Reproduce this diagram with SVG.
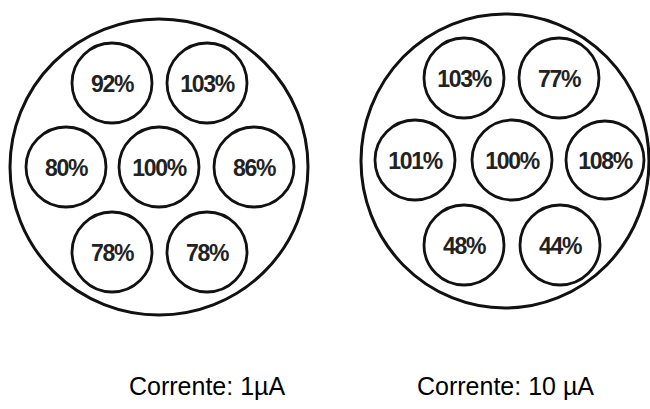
<svg xmlns="http://www.w3.org/2000/svg" width="650" height="409" viewBox="0 0 650 409">
<style>
.big{fill:#fff;stroke:#111;stroke-width:3}
.sm{fill:#fff;stroke:#111;stroke-width:2.8}
.pct{font-family:"Liberation Sans",Arial,sans-serif;font-weight:bold;font-size:23px;fill:#222;text-anchor:middle;dominant-baseline:central;letter-spacing:-1.3px}
.cap{font-family:"Liberation Sans",Arial,sans-serif;font-size:25px;fill:#000}
</style>
<rect width="650" height="409" fill="#fff"/>
<g id="panel-1uA">
<ellipse class="big" cx="159" cy="167" rx="149" ry="148"/>
<g id="n1-92"><circle class="sm" cx="112" cy="83" r="40"/><text class="pct" x="112" y="84">92%</text></g>
<g id="n1-103"><circle class="sm" cx="207" cy="83" r="40"/><text class="pct" x="207" y="84">103%</text></g>
<g id="n1-80"><circle class="sm" cx="66" cy="167" r="40"/><text class="pct" x="66" y="168">80%</text></g>
<g id="n1-100"><circle class="sm" cx="159" cy="167" r="40"/><text class="pct" x="159" y="168">100%</text></g>
<g id="n1-86"><circle class="sm" cx="254" cy="167" r="40"/><text class="pct" x="254" y="168">86%</text></g>
<g id="n1-78a"><circle class="sm" cx="112" cy="252" r="40"/><text class="pct" x="112" y="253">78%</text></g>
<g id="n1-78b"><circle class="sm" cx="207" cy="252" r="40"/><text class="pct" x="207" y="253">78%</text></g>
</g>
<g id="panel-10uA">
<ellipse class="big" cx="505" cy="161" rx="144" ry="147"/>
<g id="n2-103"><circle class="sm" cx="464" cy="78" r="40"/><text class="pct" x="464" y="79">103%</text></g>
<g id="n2-77"><circle class="sm" cx="559" cy="78" r="40"/><text class="pct" x="559" y="79">77%</text></g>
<g id="n2-101"><circle class="sm" cx="415" cy="160" r="40"/><text class="pct" x="415" y="161">101%</text></g>
<g id="n2-100"><circle class="sm" cx="512" cy="160" r="40"/><text class="pct" x="512" y="161">100%</text></g>
<g id="n2-108"><circle class="sm" cx="605" cy="160" r="39"/><text class="pct" x="605" y="161">108%</text></g>
<g id="n2-48"><circle class="sm" cx="464" cy="245" r="40"/><text class="pct" x="464" y="246">48%</text></g>
<g id="n2-44"><circle class="sm" cx="560" cy="245" r="40"/><text class="pct" x="560" y="246">44%</text></g>
</g>
<g id="connectors"></g>
<text class="cap" x="129" y="395">Corrente: 1µA</text>
<text class="cap" x="417" y="395">Corrente: 10 µA</text>
</svg>
